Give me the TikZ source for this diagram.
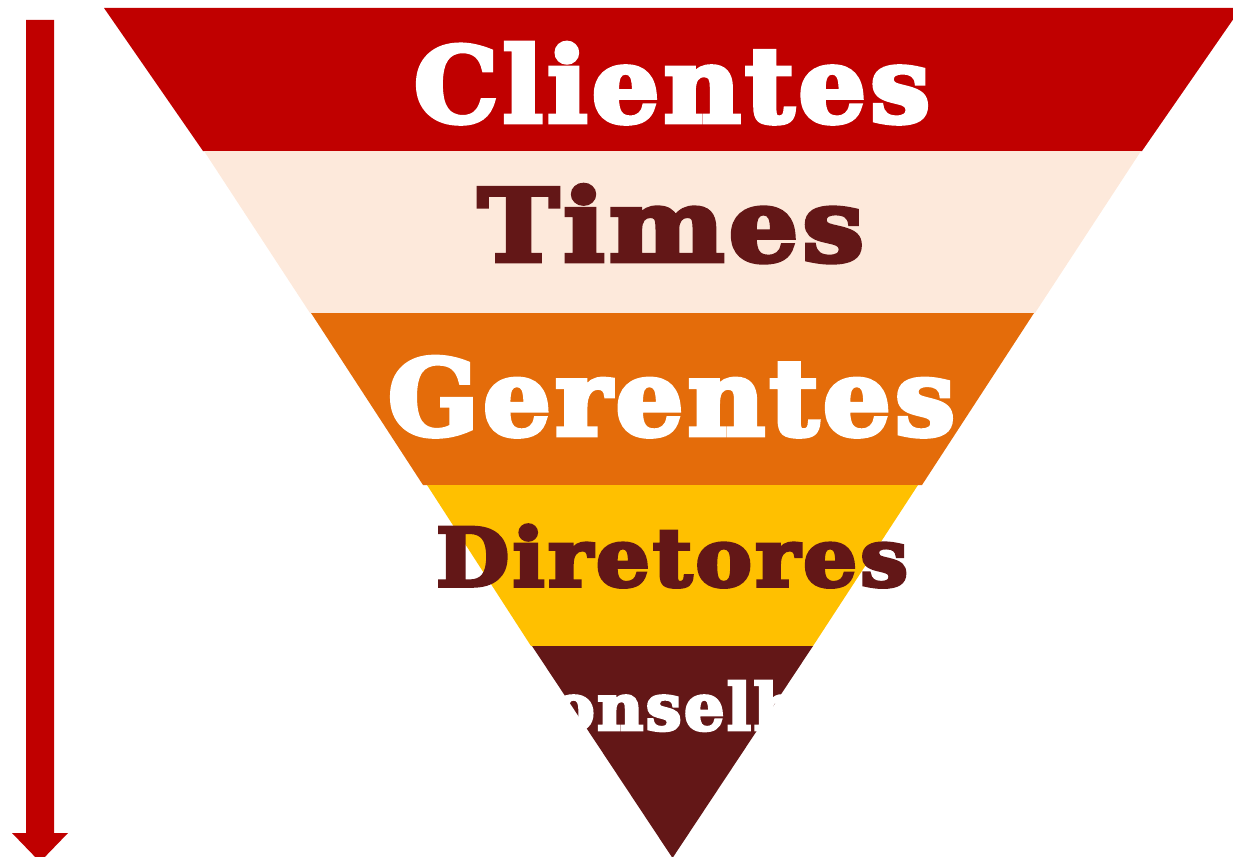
\documentclass[tikz,border=0pt]{standalone}
\usepackage{fontspec}
\usepackage{graphicx}
\newfontfamily\heavyfont{DejaVu Serif Bold}[FakeBold=4.5, LetterSpace=4]
\definecolor{bandred}{HTML}{C00000}
\definecolor{bandpeach}{HTML}{FDE9DB}
\definecolor{bandorange}{HTML}{E46C0A}
\definecolor{bandyellow}{HTML}{FFC000}
\definecolor{bandmaroon}{HTML}{631717}
\newcommand\fitword[3]{\resizebox{#1}{#2}{\heavyfont #3}}
\tikzset{
  word/.style={anchor=base, inner sep=0pt, outer sep=0pt},
  band/.style={draw=none},
}
\begin{document}
\begin{tikzpicture}[x=1pt,y=-1pt]
\useasboundingbox (0,0) rectangle (1233,856);
\clip (0,0) rectangle (1233,856);
% bands
\fill[bandred]    (104,8) -- (1241,8) -- (1142,151) -- (203,151) -- cycle;
\fill[bandpeach]  (204,151) -- (1141,151) -- (1035,313) -- (310,313) -- cycle;
\fill[bandorange] (311,313) -- (1034,313) -- (922,485) -- (423,485) -- cycle;
\fill[bandyellow] (427,485) -- (918,485) -- (813,646) -- (531,646) -- cycle;
\fill[bandmaroon] (532,646) -- (813,646) -- (672.5,858) -- cycle;
% left arrow
\fill[bandred] (26,20) -- (54,20) -- (54,833) -- (68,833) -- (40,862) -- (12,833) -- (26,833) -- cycle;
% labels
\node[word, text=white]      (clientes)  at (672,122) {\fitword{516pt}{79pt}{Clientes}};
\node[word, text=bandmaroon] (times)     at (671,261) {\fitword{386pt}{76pt}{Times}};
\node[word, text=white]      (gerentes)  at (671.5,435) {\fitword{567pt}{78pt}{Gerentes}};
\node[word, text=bandmaroon] (diretores) at (672,586) {\fitword{472pt}{61pt}{Diretores}};
\node[word, text=white]      (conselho)  at (672,730) {\fitword{345pt}{49pt}{Conselho}};
\end{tikzpicture}
\end{document}
